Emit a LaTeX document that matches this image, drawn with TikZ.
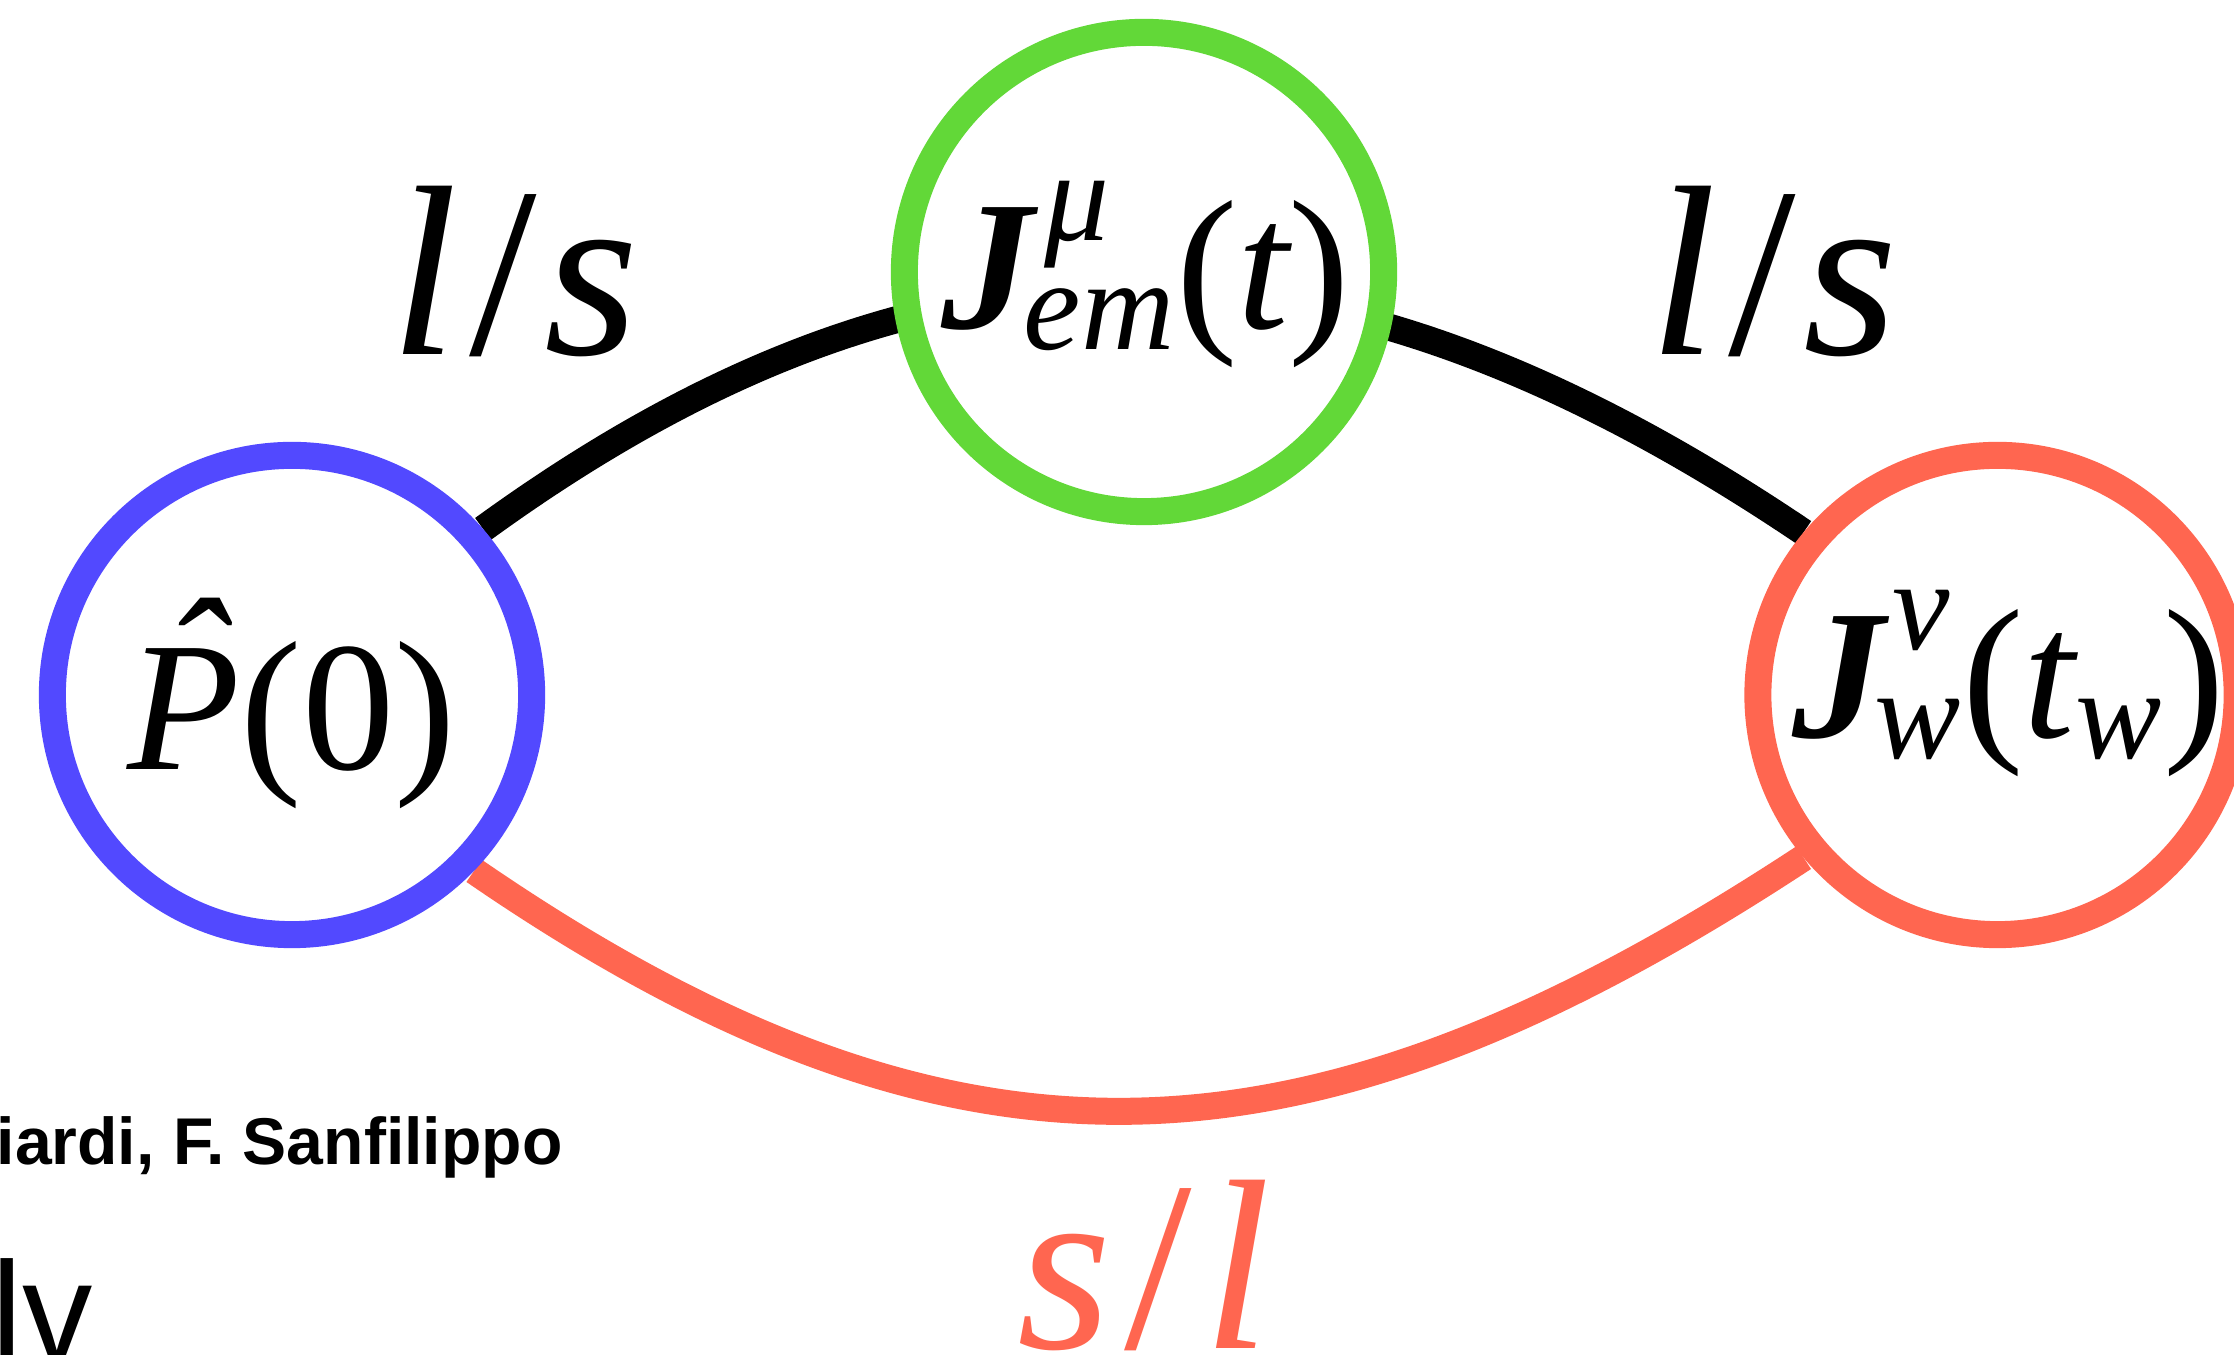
\documentclass[tikz,border=0pt]{standalone}
\usepackage{amsmath}
\usepackage{graphicx}
\usepackage{fontspec}
\setmainfont{Liberation Serif}
\newfontfamily\sansfam{Liberation Sans}
\usetikzlibrary{shapes.geometric}
\definecolor{cblue}{RGB}{82,73,255}
\definecolor{cgreen}{RGB}{98,216,56}
\definecolor{cred}{RGB}{255,102,80}
\pgfdeclarelayer{bg}
\pgfsetlayers{bg,main}
\newcommand{\Jbold}{\text{\bfseries\itshape J}}
\newcommand{\itx}[1]{\text{\itshape #1}}
\begin{document}
\begin{tikzpicture}[x=0.01cm,y=0.01cm,
  vertex/.style={circle, line width=0.27cm, fill=white, inner sep=0pt,
    minimum size=4.79cm, text height=0pt, text depth=0pt,
    font=\fontsize{52.5}{60}\selectfont},
  edgelbl/.style={font=\fontsize{69}{80}\selectfont\itshape, anchor=base, inner sep=0pt},
  link/.style={line width=0.27cm}]
\useasboundingbox (0,0) rectangle (2234,1355);
\node[vertex, draw=cblue] (P) at (292,660)
  {\makebox[0pt]{\raisebox{-0.74cm}{\itshape\rlap{\kern0.19em\raisebox{0.23em}{ˆ}}P\upshape(0)}}};
\node[vertex, draw=cgreen] (E) at (1144,1083)
  {\makebox[0pt]{\kern0.04cm\raisebox{-0.56cm}{$\Jbold^{\itx{\kern0.08em μ}}_{\itx{\kern-0.08em em}}\text{(}\itx{t}\text{)}$}}};
\node[vertex, draw=cred] (W) at (1997.5,660)
  {\makebox[0pt]{\kern0.22cm\raisebox{-0.42cm}{$\Jbold^{\itx{\kern0.06em ν}}_{\itx{\kern-0.08em w}}\text{(}\itx{t}^{}_{\itx{w}}\text{)}$}}};
\node[edgelbl] (ls1) at (514.5,1000) {l\kern0.05em\textup{/}\kern0.03em s};
\node[edgelbl] (ls2) at (1773.5,1000) {l\kern0.05em\textup{/}\kern0.03em s};
\node[edgelbl, text=cred] (sl) at (1144.5,6) {s\kern0.05em\textup{/}\kern0.05em l};
\node[anchor=base west, inner sep=0pt, font=\sansfam\bfseries\fontsize{18.8}{22}\selectfont] (auth) at (-4,190)
  {iardi, F. Sanfilippo};
\node[anchor=base west, inner sep=0pt, font=\sansfam\fontsize{40}{48}\selectfont] (lv) at (-9,-5)
  {lv};
\begin{pgfonlayer}{bg}
\fill[white] (0,0) rectangle (2234,1355);
\draw[link] (P.41) to[out=36,in=146,looseness=1.09] (W.140);
\draw[link, draw=cred] (P.-44) to[out=-34.5,in=-146.7,looseness=1.134] (W.-140);
\end{pgfonlayer}
\end{tikzpicture}
\end{document}
